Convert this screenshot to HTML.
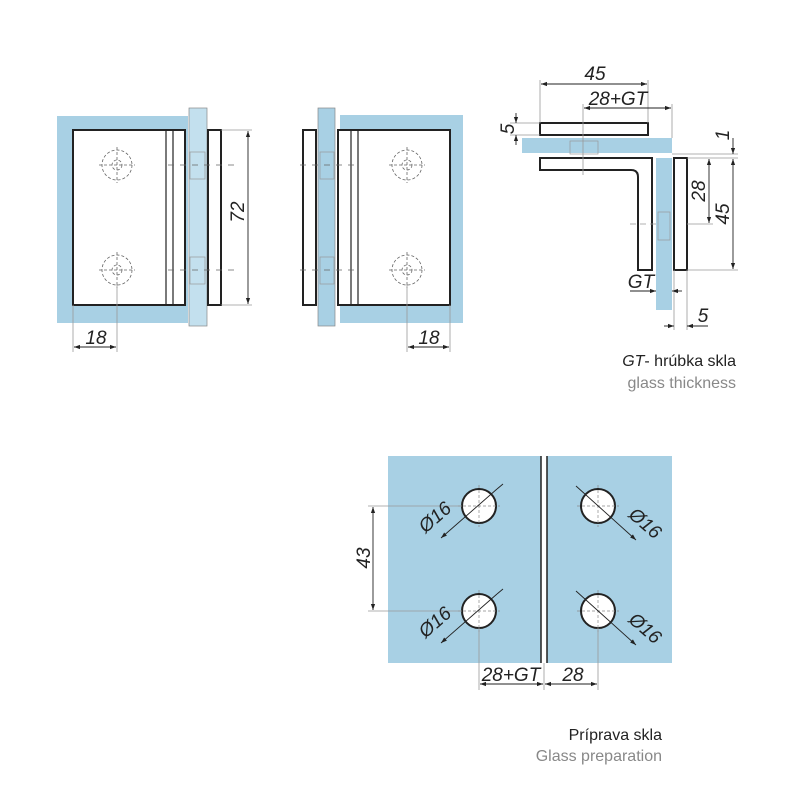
<!DOCTYPE html>
<html><head><meta charset="utf-8"><style>html,body{margin:0;padding:0;background:#fff}svg{display:block}</style></head>
<body>
<svg width="800" height="800" viewBox="0 0 800 800" xmlns="http://www.w3.org/2000/svg" font-family="Liberation Sans, sans-serif">
<defs>
<marker id="a" viewBox="0 0 10 10" refX="10" refY="5" markerWidth="8" markerHeight="6" orient="auto-start-reverse" markerUnits="userSpaceOnUse"><path d="M0,1.5 L10,5 L0,8.5z" fill="#222"/></marker>
<style>.d{font-size:19px;font-style:italic;fill:#222}</style>
</defs>
<!-- LEFT VIEW -->
<rect x="57" y="116" width="131" height="207" fill="#a8d0e4"/>
<rect x="189" y="108" width="18" height="218" fill="#c3e0ee" stroke="#888" stroke-width="0.7"/>
<rect x="73" y="130" width="112" height="175" fill="#fff" stroke="#222" stroke-width="2"/>
<line x1="166" y1="130" x2="166" y2="305" stroke="#222" stroke-width="1.2"/>
<line x1="173" y1="130" x2="173" y2="305" stroke="#222" stroke-width="1.2"/>
<rect x="208" y="130" width="13" height="175" fill="#fff" stroke="#222" stroke-width="2"/>
<rect x="190" y="152" width="15" height="27" fill="none" stroke="#999" stroke-width="0.7"/>
<rect x="190" y="257" width="15" height="27" fill="none" stroke="#999" stroke-width="0.7"/>
<g stroke="#666" stroke-width="0.8" fill="none" stroke-dasharray="3,2">
<circle cx="117" cy="165" r="15"/><circle cx="117" cy="165" r="5"/>
<circle cx="117" cy="270" r="15"/><circle cx="117" cy="270" r="5"/>
<line x1="99" y1="165" x2="135" y2="165"/><line x1="117" y1="147" x2="117" y2="183"/>
<line x1="99" y1="270" x2="135" y2="270"/><line x1="117" y1="252" x2="117" y2="288"/>
<line x1="168" y1="165" x2="235" y2="165" stroke-dasharray="6,6"/>
<line x1="168" y1="270" x2="235" y2="270" stroke-dasharray="6,6"/>
</g>
<g stroke="#999" stroke-width="0.8">
<line x1="221" y1="130" x2="252" y2="130"/><line x1="221" y1="305" x2="252" y2="305"/>
<line x1="73" y1="305" x2="73" y2="352"/><line x1="117" y1="285" x2="117" y2="352"/>
</g>
<line x1="248" y1="131" x2="248" y2="304" stroke="#222" stroke-width="0.9" marker-start="url(#a)" marker-end="url(#a)"/>
<text transform="translate(244,212) rotate(-90)" text-anchor="middle" class="d">72</text>
<line x1="74" y1="347" x2="116" y2="347" stroke="#222" stroke-width="0.9" marker-start="url(#a)" marker-end="url(#a)"/>
<text x="96" y="344" text-anchor="middle" class="d">18</text>

<!-- RIGHT VIEW -->
<rect x="340" y="115" width="123" height="208" fill="#a8d0e4"/>
<rect x="318" y="108" width="17" height="218" fill="#a8d0e4" stroke="#888" stroke-width="0.7"/>
<rect x="338" y="130" width="112" height="175" fill="#fff" stroke="#222" stroke-width="2"/>
<line x1="351" y1="130" x2="351" y2="305" stroke="#222" stroke-width="1.2"/>
<line x1="358" y1="130" x2="358" y2="305" stroke="#222" stroke-width="1.2"/>
<rect x="303" y="130" width="13" height="175" fill="#fff" stroke="#222" stroke-width="2"/>
<rect x="320" y="152" width="14" height="27" fill="none" stroke="#999" stroke-width="0.7"/>
<rect x="320" y="257" width="14" height="27" fill="none" stroke="#999" stroke-width="0.7"/>
<g stroke="#666" stroke-width="0.8" fill="none" stroke-dasharray="3,2">
<circle cx="407" cy="165" r="15"/><circle cx="407" cy="165" r="5"/>
<circle cx="407" cy="270" r="15"/><circle cx="407" cy="270" r="5"/>
<line x1="389" y1="165" x2="425" y2="165"/><line x1="407" y1="147" x2="407" y2="183"/>
<line x1="389" y1="270" x2="425" y2="270"/><line x1="407" y1="252" x2="407" y2="288"/>
<line x1="300" y1="165" x2="355" y2="165" stroke-dasharray="6,6"/>
<line x1="300" y1="270" x2="355" y2="270" stroke-dasharray="6,6"/>
</g>
<g stroke="#999" stroke-width="0.8">
<line x1="450" y1="305" x2="450" y2="352"/><line x1="407" y1="285" x2="407" y2="352"/>
</g>
<line x1="408" y1="347" x2="449" y2="347" stroke="#222" stroke-width="0.9" marker-start="url(#a)" marker-end="url(#a)"/>
<text x="429" y="344" text-anchor="middle" class="d">18</text>

<!-- SECTION VIEW -->
<rect x="522" y="138" width="150" height="15" fill="#a8d0e4"/>
<rect x="656" y="158" width="16" height="152" fill="#a8d0e4"/>
<rect x="540" y="123" width="108" height="12" fill="#fff" stroke="#222" stroke-width="2"/>
<path d="M540,158 H652 V270 H638 V177 Q638,170 631,170 H540 Z" fill="#fff" stroke="#222" stroke-width="2"/>
<rect x="674" y="158" width="13" height="112" fill="#fff" stroke="#222" stroke-width="2"/>
<rect x="570" y="141" width="28" height="13" fill="none" stroke="#999" stroke-width="0.7"/>
<rect x="658" y="212" width="12" height="28" fill="none" stroke="#999" stroke-width="0.7"/>
<g stroke="#999" stroke-width="0.8">
<line x1="540" y1="80" x2="540" y2="123"/><line x1="648" y1="80" x2="648" y2="123"/>
<line x1="672" y1="104" x2="672" y2="138"/><line x1="583" y1="104" x2="583" y2="175"/>
<line x1="510" y1="123" x2="540" y2="123"/><line x1="510" y1="135" x2="540" y2="135"/>
<line x1="672" y1="154" x2="738" y2="154"/><line x1="687" y1="158" x2="738" y2="158"/>
<line x1="687" y1="224" x2="713" y2="224"/><line x1="687" y1="270" x2="738" y2="270"/>
<line x1="630" y1="224" x2="660" y2="224" stroke-dasharray="6,4"/>
<line x1="674" y1="270" x2="674" y2="330"/><line x1="687" y1="270" x2="687" y2="330"/>
</g>
<line x1="541" y1="84" x2="647" y2="84" stroke="#222" stroke-width="0.9" marker-start="url(#a)" marker-end="url(#a)"/>
<text x="595" y="80" text-anchor="middle" class="d">45</text>
<line x1="584" y1="108" x2="671" y2="108" stroke="#222" stroke-width="0.9" marker-start="url(#a)" marker-end="url(#a)"/>
<text x="618" y="105" text-anchor="middle" class="d">28+GT</text>
<line x1="516" y1="113" x2="516" y2="123" stroke="#222" stroke-width="0.9" marker-end="url(#a)"/>
<line x1="516" y1="145" x2="516" y2="135" stroke="#222" stroke-width="0.9" marker-end="url(#a)"/>
<text transform="translate(514,129) rotate(-90)" text-anchor="middle" class="d">5</text>
<line x1="733" y1="138" x2="733" y2="154" stroke="#222" stroke-width="0.9" marker-end="url(#a)"/>
<text transform="translate(729,135) rotate(-90)" text-anchor="middle" class="d">1</text>
<line x1="733" y1="159" x2="733" y2="269" stroke="#222" stroke-width="0.9" marker-start="url(#a)" marker-end="url(#a)"/>
<text transform="translate(729,214) rotate(-90)" text-anchor="middle" class="d">45</text>
<line x1="709" y1="159" x2="709" y2="223" stroke="#222" stroke-width="0.9" marker-start="url(#a)" marker-end="url(#a)"/>
<text transform="translate(705,191) rotate(-90)" text-anchor="middle" class="d">28</text>
<line x1="630" y1="291" x2="656" y2="291" stroke="#222" stroke-width="0.9" marker-end="url(#a)"/>
<line x1="682" y1="291" x2="672" y2="291" stroke="#222" stroke-width="0.9" marker-end="url(#a)"/>
<text x="641" y="288" text-anchor="middle" class="d">GT</text>
<line x1="664" y1="326" x2="674" y2="326" stroke="#222" stroke-width="0.9" marker-end="url(#a)"/>
<line x1="708" y1="326" x2="687" y2="326" stroke="#222" stroke-width="0.9" marker-end="url(#a)"/>
<text x="703" y="322" text-anchor="middle" class="d">5</text>

<text x="736" y="366" text-anchor="end" font-size="16" fill="#222"><tspan font-style="italic">GT</tspan>- hrúbka skla</text>
<text x="736" y="388" text-anchor="end" font-size="16" fill="#888">glass thickness</text>

<!-- GLASS PREPARATION -->
<rect x="388" y="456" width="153" height="207" fill="#a8d0e4"/>
<rect x="547" y="456" width="125" height="207" fill="#a8d0e4"/>
<line x1="541" y1="456" x2="541" y2="663" stroke="#222" stroke-width="1.5"/>
<line x1="547" y1="456" x2="547" y2="663" stroke="#222" stroke-width="1.5"/>
<g stroke="#222" stroke-width="2" fill="#fff">
<circle cx="479" cy="506" r="17"/><circle cx="479" cy="611" r="17"/>
<circle cx="598" cy="506" r="17"/><circle cx="598" cy="611" r="17"/>
</g>
<g stroke="#888" stroke-width="0.7" stroke-dasharray="3,2">
<line x1="458" y1="506" x2="500" y2="506"/><line x1="479" y1="485" x2="479" y2="527"/>
<line x1="458" y1="611" x2="500" y2="611"/><line x1="479" y1="590" x2="479" y2="632"/>
<line x1="577" y1="506" x2="619" y2="506"/><line x1="598" y1="485" x2="598" y2="527"/>
<line x1="577" y1="611" x2="619" y2="611"/><line x1="598" y1="590" x2="598" y2="632"/>
</g>
<g stroke="#999" stroke-width="0.8">
<line x1="368" y1="506" x2="462" y2="506"/><line x1="368" y1="611" x2="462" y2="611"/>
<line x1="479" y1="628" x2="479" y2="690"/><line x1="598" y1="628" x2="598" y2="690"/>
<line x1="544" y1="663" x2="544" y2="690"/>
</g>
<line x1="373" y1="507" x2="373" y2="610" stroke="#222" stroke-width="0.9" marker-start="url(#a)" marker-end="url(#a)"/>
<text transform="translate(370,558) rotate(-90)" text-anchor="middle" class="d">43</text>
<g stroke="#222" stroke-width="0.9">
<line x1="441" y1="538" x2="497" y2="489" marker-start="url(#a)"/>
<line x1="497" y1="489" x2="503" y2="484"/>
<line x1="441" y1="643" x2="497" y2="594" marker-start="url(#a)"/>
<line x1="497" y1="594" x2="503" y2="589"/>
<line x1="576" y1="486" x2="636" y2="540" marker-end="url(#a)"/>
<line x1="576" y1="591" x2="636" y2="645" marker-end="url(#a)"/>
</g>
<text transform="translate(439,522) rotate(-41)" text-anchor="middle" class="d">Ø16</text>
<text transform="translate(439,627) rotate(-41)" text-anchor="middle" class="d">Ø16</text>
<text transform="translate(641,528) rotate(41)" text-anchor="middle" class="d">Ø16</text>
<text transform="translate(641,633) rotate(41)" text-anchor="middle" class="d">Ø16</text>
<line x1="480" y1="684" x2="543" y2="684" stroke="#222" stroke-width="0.9" marker-start="url(#a)" marker-end="url(#a)"/>
<line x1="545" y1="684" x2="597" y2="684" stroke="#222" stroke-width="0.9" marker-start="url(#a)" marker-end="url(#a)"/>
<text x="511" y="681" text-anchor="middle" class="d">28+GT</text>
<text x="573" y="681" text-anchor="middle" class="d">28</text>

<text x="662" y="740" text-anchor="end" font-size="16" fill="#222">Príprava skla</text>
<text x="662" y="761" text-anchor="end" font-size="16" fill="#888">Glass preparation</text>
</svg>
</body></html>
